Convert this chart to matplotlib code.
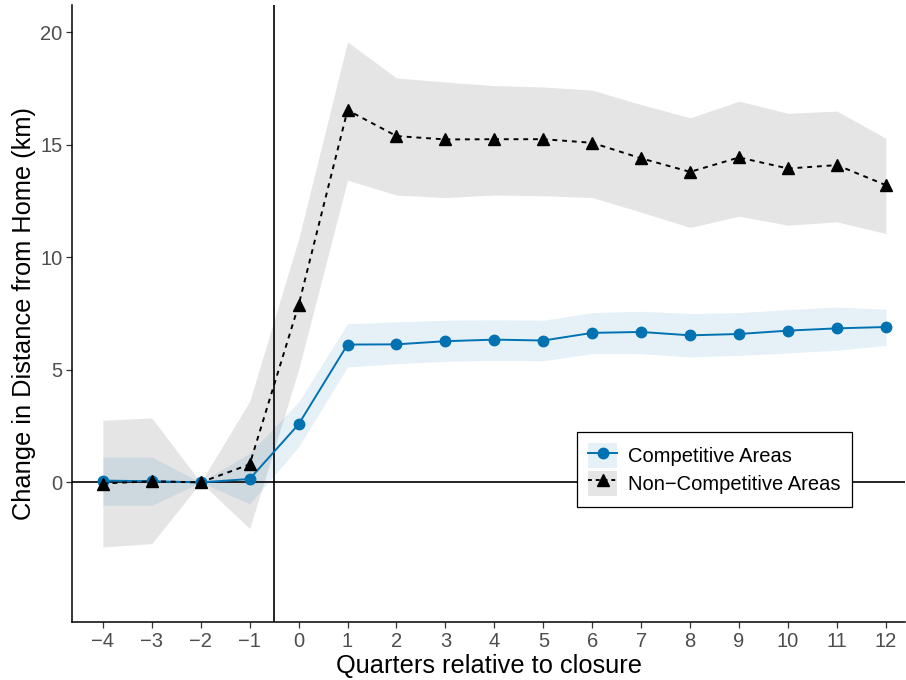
import matplotlib
matplotlib.use("Agg")
import matplotlib.pyplot as plt
from matplotlib.patches import Patch
from matplotlib.lines import Line2D

plt.rcParams['font.family'] = ['Liberation Sans', 'DejaVu Sans']

quarters = [-4, -3, -2, -1, 0, 1, 2, 3, 4, 5, 6, 7, 8, 9, 10, 11, 12]

comp_est = [0.08, 0.05, 0.0, 0.15, 2.58, 6.12, 6.13, 6.27, 6.34, 6.30, 6.64, 6.68, 6.53, 6.59, 6.74, 6.84, 6.90]
comp_lo = [-1.02, -1.02, 0.0, -0.95, 1.57, 5.13, 5.27, 5.38, 5.42, 5.40, 5.72, 5.72, 5.57, 5.64, 5.75, 5.87, 6.09]
comp_hi = [1.13, 1.13, 0.0, 1.30, 3.57, 7.05, 7.13, 7.20, 7.22, 7.20, 7.54, 7.60, 7.50, 7.54, 7.67, 7.79, 7.69]

noncomp_est = [-0.05, 0.05, 0.0, 0.80, 7.87, 16.53, 15.38, 15.23, 15.24, 15.24, 15.08, 14.39, 13.79, 14.43, 13.94, 14.09, 13.20]
noncomp_lo = [-2.87, -2.72, 0.0, -2.05, 5.00, 13.42, 12.76, 12.65, 12.76, 12.73, 12.65, 12.00, 11.32, 11.82, 11.42, 11.57, 11.05]
noncomp_hi = [2.76, 2.86, 0.0, 3.60, 10.80, 19.56, 17.96, 17.78, 17.62, 17.56, 17.42, 16.78, 16.19, 16.93, 16.39, 16.49, 15.28]

y_ticks = [0, 5, 10, 15, 20]
series_labels = ["Competitive Areas", "Non\u2212Competitive Areas"]

BLUE = "#0072B2"
BLUE_FILL = "#E6F1F7"
GRAY_FILL = (0.5, 0.5, 0.5, 0.2)
TICK_COLOR = "#4D4D4D"

fig = plt.figure(figsize=(9.06, 6.8), dpi=100)
ax = fig.add_axes([72 / 906, 58 / 680, 833 / 906, 617 / 680])

# confidence bands
ax.fill_between(quarters, noncomp_lo, noncomp_hi, color=GRAY_FILL, linewidth=0, zorder=1)
ax.fill_between(quarters, comp_lo, comp_hi, color=BLUE, alpha=0.1, linewidth=0, zorder=2)

# reference lines
ax.axhline(0, color="black", linewidth=1.2, zorder=3)
ax.axvline(-0.5, color="black", linewidth=1.2, zorder=3)

# point estimates
ax.plot(quarters, comp_est, color=BLUE, linewidth=1.4, marker="o", markersize=7.5, zorder=4)
ax.plot(quarters, noncomp_est, color="black", linewidth=1.4, linestyle=(0, (2.5, 2.5)),
        marker="^", markersize=9, zorder=5)

ax.set_xlim(-4.63, 12.39)
ax.set_ylim(-6.2, 21.2)
ax.set_xticks(quarters)
ax.set_xticklabels([str(q).replace("-", "\u2212") for q in quarters])
ax.set_yticks(y_ticks)

for side in ("top", "right"):
    ax.spines[side].set_visible(False)
for side in ("left", "bottom"):
    ax.spines[side].set_linewidth(1.1)

ax.tick_params(axis="both", length=4, width=0.9, color="#333333", labelcolor=TICK_COLOR,
               labelsize=14.5, pad=3)

ax.set_xlabel("Quarters relative to closure", fontsize=18.3, labelpad=2)
ax.set_ylabel("Change in Distance from Home (km)", fontsize=18.3, labelpad=3)

handles = [
    (Patch(facecolor=BLUE_FILL, edgecolor="none"),
     Line2D([], [], color=BLUE, linewidth=1.4, marker="o", markersize=7.5)),
    (Patch(facecolor="#E5E5E5", edgecolor="none"),
     Line2D([], [], color="black", linewidth=1.4, linestyle=(0, (2, 2)), marker="^", markersize=9)),
]
leg = ax.legend(handles, series_labels, loc="upper left",
                bbox_to_anchor=(577 / 906, 1 - 432 / 680), bbox_transform=fig.transFigure,
                fontsize=14.5, frameon=True, fancybox=False, framealpha=1,
                edgecolor="black", handlelength=1.45, handleheight=1.55,
                handletextpad=0.55, labelspacing=0.12, borderpad=0.55, borderaxespad=0)
leg.get_frame().set_linewidth(0.9)
leg.set_zorder(6)

fig.savefig("out.png", dpi=100)
